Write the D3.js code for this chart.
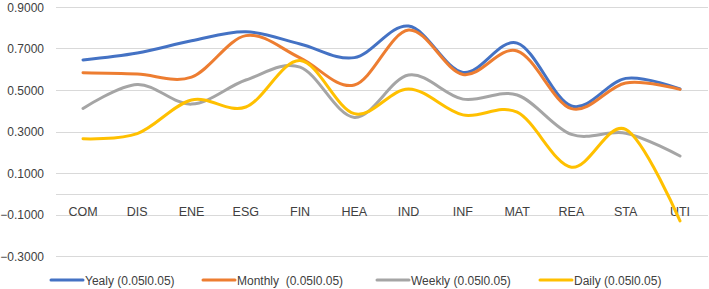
<!DOCTYPE html>
<html>
<head>
<meta charset="utf-8">
<script src="https://cdn.jsdelivr.net/npm/d3@7"></script>
<style>
  body { margin: 0; background: #fff; }
  text { font-family: "Liberation Sans", Arial, sans-serif; fill: #404040; white-space: pre; }
</style>
</head>
<body>
<div class="chart"></div>
<script>
var w = 709;
var h = 289;

// Data
var categories = ["COM", "DIS", "ENE", "ESG", "FIN", "HEA", "IND", "INF", "MAT", "REA", "STA", "UTI"];
var yealy   = [0.645, 0.678, 0.737, 0.781, 0.722, 0.656, 0.808, 0.585, 0.726, 0.423, 0.556, 0.505];
var monthly = [0.583, 0.577, 0.562, 0.762, 0.655, 0.524, 0.789, 0.575, 0.688, 0.410, 0.534, 0.503];
var weekly  = [0.411, 0.527, 0.432, 0.548, 0.610, 0.368, 0.572, 0.456, 0.476, 0.286, 0.292, 0.182];
var daily   = [0.265, 0.290, 0.452, 0.418, 0.642, 0.386, 0.505, 0.380, 0.393, 0.128, 0.310, -0.131];
var seriesNames = ["Yealy (0.05l0.05)", "Monthly  (0.05l0.05)", "Weekly (0.05l0.05)", "Daily (0.05l0.05)"];
var yTicks = [0.9, 0.7, 0.5, 0.3, 0.1, -0.1, -0.3];

var colors = ["#4472C4", "#ED7D31", "#A5A5A5", "#FFC000"];
var series = [yealy, monthly, weekly, daily];

var svg = d3.select(".chart")
    .append("svg")
    .attr("width", w)
    .attr("height", h);

// Scales
var x = d3.scalePoint()
    .domain(categories)
    .range([83, 680]);

var y = d3.scaleLinear()
    .domain([-0.3, 0.9])
    .range([256, 7]);

// Gridlines
svg.append("g")
    .selectAll("line")
    .data(yTicks)
    .enter()
    .append("line")
    .attr("x1", 56)
    .attr("x2", 708)
    .attr("y1", d => Math.round(y(d)) + 0.5)
    .attr("y2", d => Math.round(y(d)) + 0.5)
    .attr("stroke", "#D9D9D9")
    .attr("stroke-width", 1);

// Horizontal axis at zero
svg.append("line")
    .attr("x1", 56)
    .attr("x2", 708)
    .attr("y1", Math.round(y(0)) + 0.5)
    .attr("y2", Math.round(y(0)) + 0.5)
    .attr("stroke", "#D9D9D9")
    .attr("stroke-width", 1);

// Y labels
svg.append("g")
    .selectAll("text")
    .data(yTicks)
    .enter()
    .append("text")
    .attr("x", 44)
    .attr("y", d => y(d) + 4.5)
    .attr("text-anchor", "end")
    .attr("font-size", "12px")
    .text(d => d3.format(".4f")(d));

// Category labels
svg.append("g")
    .selectAll("text")
    .data(categories)
    .enter()
    .append("text")
    .attr("x", d => x(d))
    .attr("y", 216)
    .attr("text-anchor", "middle")
    .attr("font-size", "12.5px")
    .text(d => d);

// Lines (smoothed like Excel)
var line = d3.line()
    .x((d, i) => x(categories[i]))
    .y(d => y(d))
    .curve(d3.curveCatmullRom.alpha(0));

svg.append("g")
    .selectAll("path")
    .data(series)
    .enter()
    .append("path")
    .attr("d", line)
    .attr("fill", "none")
    .attr("stroke", (d, i) => colors[i])
    .attr("stroke-width", 3)
    .attr("stroke-linecap", "round")
    .attr("stroke-linejoin", "round");

// Legend
var legendX = [51, 203, 377, 540];
var legend = svg.append("g")
    .selectAll("g")
    .data(seriesNames)
    .enter()
    .append("g")
    .attr("transform", (d, i) => "translate(" + legendX[i] + ",280)");

legend.append("line")
    .attr("x1", 0)
    .attr("x2", 32)
    .attr("y1", 0)
    .attr("y2", 0)
    .attr("stroke", (d, i) => colors[i])
    .attr("stroke-width", 3)
    .attr("stroke-linecap", "round");

legend.append("text")
    .attr("x", 34)
    .attr("y", 4.5)
    .attr("font-size", "12px")
    .text(d => d);
</script>
</body>
</html>
